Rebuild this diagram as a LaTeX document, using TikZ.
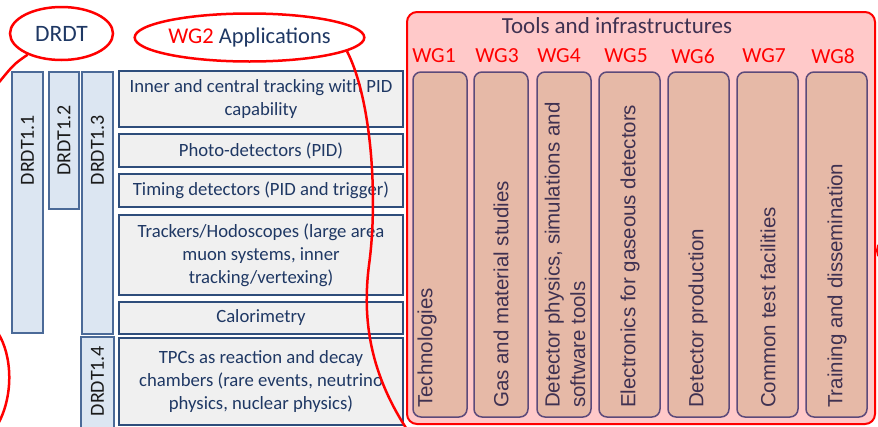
\documentclass[tikz,border=0pt]{standalone}
\usepackage{fontspec}
\setmainfont{Carlito}
\newfontfamily\arialfont{Liberation Sans}
\usetikzlibrary{shapes.geometric}

\definecolor{navytext}{HTML}{1F3864}
\definecolor{appfill}{HTML}{F0F0F0}
\definecolor{appedge}{HTML}{2E4D7B}
\definecolor{drdtfill}{HTML}{DCE6F2}
\definecolor{drdtedge}{HTML}{4B6A98}
\definecolor{drdttext}{HTML}{1A1A1A}
\definecolor{panelfill}{HTML}{FFC9C9}
\definecolor{colfill}{HTML}{E6B9A7}
\definecolor{coledge}{HTML}{5C4A7A}
\definecolor{coltextc}{HTML}{3F3151}

\tikzset{
  appbox/.style={draw=appedge, fill=appfill, line width=2pt, minimum width=284pt,
    inner sep=0pt, align=center, text=navytext, font=\fontsize{18.7}{23}\selectfont},
  drdtbox/.style={draw=drdtedge, fill=drdtfill, line width=1.5pt, inner sep=0pt},
  drdtlbl/.style={rotate=90, text=drdttext, inner sep=0pt, font=\fontsize{20}{23}\selectfont},
  wgcol/.style={draw=coledge, fill=colfill, line width=1.5pt, rounded corners=8pt,
    minimum height=345pt, inner sep=0pt},
  coltext/.style={rotate=90, anchor=west, align=left, text=coltextc, inner sep=0pt,
    font=\arialfont\fontsize{20.5}{25.5}\selectfont},
  wglbl/.style={text=red, font=\fontsize{21.5}{24}\selectfont},
  redring/.style={ellipse, draw=red, line width=2.5pt, inner sep=0pt},
  redline/.style={draw=red, line width=2.5pt}
}

\begin{document}
\begin{tikzpicture}[x=1pt,y=-1pt]
\useasboundingbox (0,0) rectangle (878,426);

% DRDT columns
\node[drdtbox, minimum width=31pt, minimum height=261pt] (d11) at (27.5,202.5) {};
\node[drdtlbl] (d11lbl) at (27.5,150) {DRDT1.1};
\node[drdtbox, minimum width=30pt, minimum height=137pt] (d12) at (64,140.5) {};
\node[drdtlbl] (d12lbl) at (64,140.5) {DRDT1.2};
\node[drdtbox, minimum width=31pt, minimum height=262pt] (d13) at (97.5,203) {};
\node[drdtlbl] (d13lbl) at (97.5,150) {DRDT1.3};
\node[drdtbox, minimum width=33pt, minimum height=95pt] (d14) at (97.5,384.5) {};
\node[drdtlbl] (d14lbl) at (97.5,381) {DRDT1.4};

% WG2 applications
\node[appbox, minimum height=56pt] (inner) at (261,99) {Inner and central tracking with PID\\capability};
\node[appbox, minimum height=33pt] (photo) at (261,150.5) {Photo-detectors (PID)};
\node[appbox, minimum height=33pt] (timing) at (261,190.5) {Timing detectors (PID and trigger)};
\node[appbox, minimum height=80pt] (track) at (261,255) {Trackers/Hodoscopes (large area\\muon systems, inner\\tracking/vertexing)};
\node[appbox, minimum height=32pt] (calo) at (261,318) {Calorimetry};
\node[appbox, minimum height=87pt] (tpc) at (261,381.5) {TPCs as reaction and decay\\chambers (rare events, neutrino\\physics, nuclear physics)};

% tools and infrastructures
\node[draw=red, fill=panelfill, line width=2pt, rounded corners=10pt, minimum width=468pt,
  minimum height=412pt, inner sep=0pt] (tools) at (641,218) {};
\node[text=coltextc, font=\fontsize{23}{26}\selectfont] (toolstitle) at (617,26) {Tools and infrastructures};

\node[wglbl] (wg1) at (434,56) {WG1};
\node[wglbl] (wg3) at (497,56) {WG3};
\node[wglbl] (wg4) at (559,56) {WG4};
\node[wglbl] (wg5) at (626,56) {WG5};
\node[wglbl] (wg6) at (693,56) {WG6};
\node[wglbl] (wg7) at (764,56) {WG7};
\node[wglbl] (wg8) at (833,56) {WG8};

\node[wgcol, minimum width=54pt] (c1) at (440,244.5) {};
\node[wgcol, minimum width=54pt] (c3) at (501,244.5) {};
\node[wgcol, minimum width=54pt] (c4) at (564,244.5) {};
\node[wgcol, minimum width=61pt] (c5) at (629.5,244.5) {};
\node[wgcol, minimum width=61pt] (c6) at (698.5,244.5) {};
\node[wgcol, minimum width=61pt] (c7) at (767.5,244.5) {};
\node[wgcol, minimum width=61pt] (c8) at (836.5,244.5) {};

\node[coltext] (c1txt) at (427,408) {Technologies};
\node[coltext] (c3txt) at (501,408) {Gas and material studies};
\node[coltext] (c4txt) at (565,408) {Detector physics,  simulations and\\software tools};
\node[coltext] (c5txt) at (630,408) {Electronics for gaseous detectors};
\node[coltext] (c6txt) at (698,408) {Detector production};
\node[coltext] (c7txt) at (768,408) {Common test facilities};
\node[coltext] (c8txt) at (837,408) {Training and dissemination};

% red rings
\node[redring, minimum width=103pt, minimum height=53pt, text=navytext,
  font=\fontsize{23.5}{26}\selectfont] (drdtring) at (61.5,33.5) {DRDT};
\node[redring, minimum width=185pt, minimum height=48pt,
  font=\fontsize{22.5}{26}\selectfont] (wg2ring) at (249.5,37.5) {\textcolor{red}{WG2} \textcolor{navytext}{Applications}};

\coordinate (drdtend) at (-4,86);
\coordinate (wg2end) at (410,434);
\draw[redline] (drdtring.212) .. controls (14,64) .. (drdtend);
\draw[redline] (wg2ring.352) .. controls (372,100) and (378,200) .. (369,265)
  .. controls (362,320) and (370,375) .. (wg2end);
\draw[redline] (-2,333) .. controls (12,355) and (14,395) .. (-2,424);
\draw[redline] (881,242) .. controls (876,247) and (876,254) .. (881,259);

\end{tikzpicture}
\end{document}
